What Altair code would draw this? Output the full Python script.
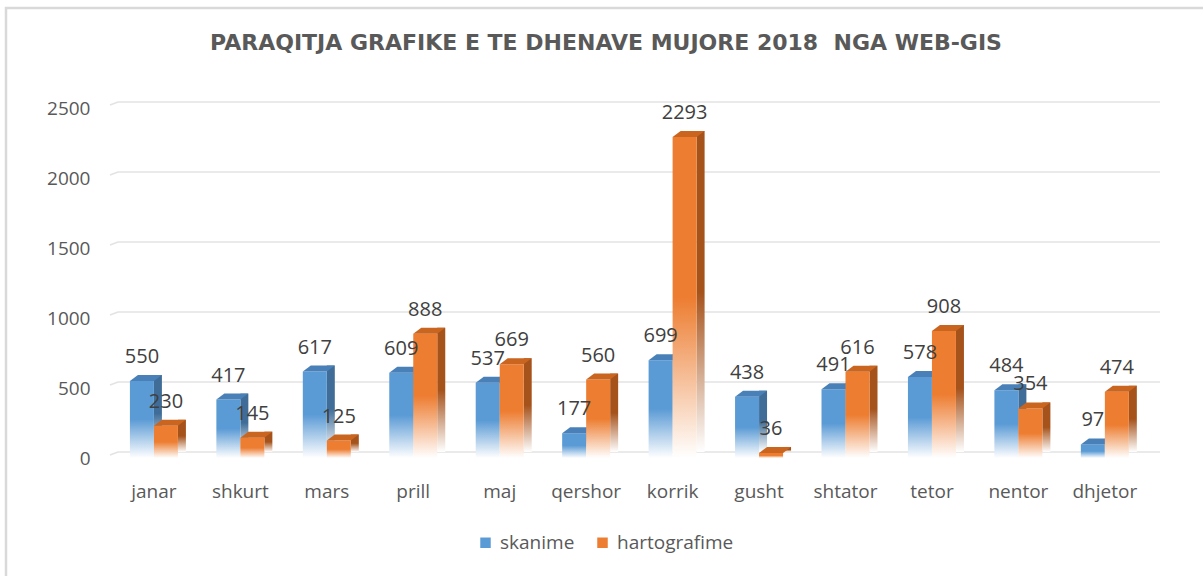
import altair as alt
import pandas as pd

months = ["janar", "shkurt", "mars", "prill", "maj", "qershor", "korrik",
          "gusht", "shtator", "tetor", "nentor", "dhjetor"]
skanime = [550, 417, 617, 609, 537, 177, 699, 438, 491, 578, 484, 97]
hartografime = [230, 145, 125, 888, 669, 560, 2293, 36, 616, 908, 354, 474]
series_names = ["skanime", "hartografime"]
y_ticks = [0, 500, 1000, 1500, 2000, 2500]
title_text = "PARAQITJA GRAFIKE E TE DHENAVE MUJORE 2018\u00a0 NGA WEB-GIS"

rows = []
for i, m in enumerate(months):
    rows.append({"month": m, "series": "skanime", "value": skanime[i]})
    rows.append({"month": m, "series": "hartografime", "value": hartografime[i]})
df = pd.DataFrame(rows)
ticks_df = pd.DataFrame({"tick": y_ticks})

W, H = 1050, 350
FONT = "Open Sans"
AXIS_COLOR = "#595959"
BW = 24  # front face width (px)

colors = {
    "skanime": {"front": "#5B9BD5", "side": "#3F6D98", "top": "#4A80B8", "shift": -BW / 2},
    "hartografime": {"front": "#ED7D31", "side": "#A5521B", "top": "#C9651F", "shift": BW / 2},
}


def grad(c, mid=0.5):
    return alt.Gradient(
        gradient="linear",
        stops=[alt.GradientStop(color=c, offset=0),
               alt.GradientStop(color=c, offset=mid),
               alt.GradientStop(color="#FFFFFF", offset=1)],
        x1=0, x2=0, y1=0, y2=1)


x_scale = alt.Scale(paddingInner=0.445, paddingOuter=0.2955, align=0.39)
y_scale = alt.Scale(domain=[0, 2500], nice=False, zero=True)
x_axis = alt.Axis(title=None, labelAngle=0, domain=False, ticks=False,
                  labelPadding=24, labelFontSize=19, labelColor=AXIS_COLOR,
                  labelFont=FONT, grid=False)
y_axis = alt.Axis(title=None, values=y_ticks, format="d", domain=False, ticks=False,
                  grid=False, labelPadding=20, labelFontSize=19,
                  labelColor=AXIS_COLOR, labelFont=FONT)

x_enc = alt.X("month:N", sort=months, scale=x_scale, axis=x_axis)
y_enc = alt.Y("value:Q", scale=y_scale, axis=y_axis)

base = alt.Chart(df).encode(x=x_enc, y=y_enc)

# back-wall gridlines
grid = alt.Chart(ticks_df).mark_rule(color="#E3E3E3", strokeWidth=1.5, yOffset=-6).encode(
    y=alt.Y("tick:Q", scale=y_scale, axis=y_axis),
    x=alt.value(8), x2=alt.value(W))
grid_slant = alt.Chart(ticks_df).mark_rule(color="#E3E3E3", strokeWidth=1.5,
                                           yOffset=-3, y2Offset=-6).encode(
    y=alt.Y("tick:Q", scale=y_scale, axis=y_axis), y2="tick:Q",
    x=alt.value(0), x2=alt.value(8))

layers = [grid, grid_slant]
label_layers = []
for s in series_names:
    c = colors[s]
    sh = c["shift"]
    sub = base.transform_filter(alt.datum.series == s)
    side = sub.mark_bar(width=8, xOffset=sh + BW / 2 + 4, yOffset=-6, y2Offset=-3,
                        fill=grad(c["side"]), strokeWidth=0)
    front = sub.mark_bar(width=BW, xOffset=sh, fill=grad(c["front"]), strokeWidth=0)
    top = sub.mark_point(shape="M-1,0.1875L0.5,0.1875L1,-0.1875L-0.5,-0.1875Z",
                         size=1024, filled=True, fill=c["top"], opacity=1,
                         strokeWidth=0, xOffset=sh + 4, yOffset=-3)
    layers += [side, front, top]
    label_layers.append(sub.mark_text(dy=-18, dx=sh, baseline="alphabetic", fontSize=20,
                                      font=FONT, color="#404040").encode(text="value:Q"))

legend_layer = base.mark_square(size=0, opacity=0).encode(
    color=alt.Color("series:N", sort=series_names,
                    scale=alt.Scale(domain=series_names, range=["#5B9BD5", "#ED7D31"]),
                    legend=alt.Legend(title=None, orient="none", legendX=366, legendY=425,
                                      direction="horizontal", symbolType="square",
                                      symbolSize=110, symbolOpacity=1, symbolStrokeWidth=0,
                                      labelFontSize=19, labelFont=FONT, labelColor=AXIS_COLOR,
                                      columnPadding=18, labelOffset=5, padding=0)))

border = alt.Chart(alt.Data(values=[{}])).mark_rect(
    fill="white", fillOpacity=0, stroke="#D9D9D9", strokeWidth=2.5).encode(
    x=alt.value(-104), x2=alt.value(W + 80), y=alt.value(-100), y2=alt.value(H + 150))

title = alt.Chart(alt.Data(values=[{"t": title_text}])).mark_text(
    font="DejaVu Sans", fontSize=22, fontWeight="bold", color=AXIS_COLOR,
    align="center", baseline="alphabetic").encode(
    text="t:N", x=alt.value(W / 2 - 29), y=alt.value(-58))

layers = [border] + layers + label_layers + [legend_layer, title]

chart = alt.layer(*layers).properties(
    width=W, height=H,
    padding={"left": 110, "top": 108, "right": 43, "bottom": 118},
    autosize=alt.AutoSizeParams(type="none"),
    background="white",
).configure_view(stroke=None)

chart.save("out.html", embed_options={"renderer": "svg", "actions": False})
